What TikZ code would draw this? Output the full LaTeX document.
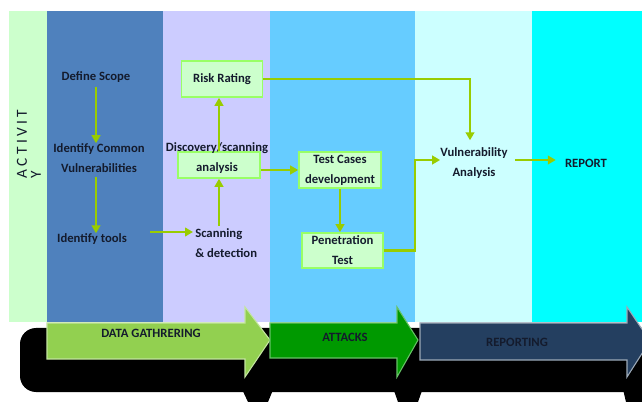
\documentclass[tikz,border=0pt]{standalone}
\usepackage{fontspec}
\setmainfont{Carlito}
\usetikzlibrary{arrows.meta,calc}
\definecolor{actlane}{HTML}{CCFFCC}
\definecolor{scopelane}{HTML}{4F81BD}
\definecolor{scanlane}{HTML}{CCCCFF}
\definecolor{attacklane}{HTML}{66CCFF}
\definecolor{analysislane}{HTML}{CCFFFF}
\definecolor{reportlane}{HTML}{00FFFF}
\definecolor{boxfill}{HTML}{CCFFCC}
\definecolor{boxline}{HTML}{99FF66}
\definecolor{flowline}{HTML}{99CC00}
\definecolor{gatherfill}{HTML}{92D050}
\definecolor{attackfill}{HTML}{009900}
\definecolor{reportfill}{HTML}{243F60}
\definecolor{ink}{HTML}{141B2D}
\begin{document}
\begin{tikzpicture}[x=0.75pt,y=-0.75pt]
    \tikzstyle{every node}+=[inner sep=0pt, text=ink, font=\bfseries\fontsize{9.5}{15}\selectfont]
    \tikzstyle{stepbox}=[draw=boxline, fill=boxfill, line width=1.2pt, align=center]
    \tikzstyle{flow}=[draw=flowline, line width=1.8pt, -{Triangle[length=6pt,width=6.5pt]}]
    \useasboundingbox (0,0) rectangle (642,402);
    \fill [white] (0,0) rectangle (642,402);
    % lanes
    \fill [actlane] (9,11) rectangle (47,322);
    \fill [scopelane] (47,11) rectangle (163,322);
    \fill [scanlane] (163,11) rectangle (270,322);
    \fill [attacklane] (270,11) rectangle (415,322);
    \fill [analysislane] (415,11) rectangle (532,322);
    \fill [reportlane] (532,11) rectangle (642,322);
    \node [rotate=90, align=left, font=\fontsize{11.5}{10.5}\selectfont\addfontfeatures{LetterSpace=22}] (activity) at (29,144) {ACTIVIT\\Y};
    % steps
    \node (scope) at (96,77) {Define Scope};
    \node [align=center] (common) at (99,158) {Identify Common\\Vulnerabilities};
    \node (tools) at (92,239) {Identify tools};
    \node [align=left, anchor=west] (scan) at (195,243) {Scanning\\\& detection};
    \node [stepbox, minimum width=61.5pt, minimum height=19.5pt] (disc) at (219,165) {};
    \node [align=center] (disctext) at (217,158) {Discovery/scanning\\analysis};
    \node [stepbox, minimum width=60.75pt, minimum height=27pt] (risk) at (222,79) {Risk Rating};
    \node [stepbox, minimum width=61.5pt, minimum height=27pt] (test) at (340,170) {Test Cases\\development};
    \node [stepbox, minimum width=60.75pt, minimum height=26.25pt] (pen) at (342.5,250.5) {Penetration\\Test};
    \node [align=center] (vuln) at (474,163) {Vulnerability\\Analysis};
    \node (report) at (586,163) {REPORT};
    % flows
    \draw [flow, shorten <=3pt] (scope.south) -- (scope.south |- common.north);
    \draw [flow, shorten <=3pt] (scope.south |- common.south) -- (scope.south |- tools.north);
    \draw [flow] ($(tools.east)+(23,-7)$) -- ($(scan.west)+(-2,-11)$);
    \draw [flow, shorten <=2pt] (disc.south |- scan.north) -- (disc.south);
    \draw [flow] (disc.north) -- (disc.north |- risk.south);
    \draw [flow] (risk.east) -| ($(vuln.north)+(-4,-7)$);
    \draw [flow] (disc.east |- test.west) -- (test.west);
    \draw [flow] (test.south) -- (test.south |- pen.north);
    \draw [flow] (pen.east) -- ++(31,0) |- ($(vuln.west)+(0,-3)$);
    \draw [flow] ($(vuln.east)+(7,-3)$) -- ($(report.west)+(-9,-3)$);
    % phase arrows
    \fill [black, rounded corners=12] (20,328) rectangle (660,392);
    \fill [black] (240,385) -- (275,385) -- (268,402) -- (248,402) -- cycle;
    \fill [black] (392,385) -- (424,385) -- (418,402) -- (398,402) -- cycle;
    \fill [black] (622,385) -- (650,385) -- (644,402) -- (626,402) -- cycle;
    \filldraw [fill=gatherfill, draw=gatherfill!55!white, line width=0.8pt] (47,323) -- (245,323) -- (245,307) -- (270,340) -- (245,377) -- (245,359) -- (47,359) -- cycle;
    \filldraw [fill=attackfill, draw=attackfill!60!white, line width=0.8pt] (270,323) -- (397,323) -- (397,307) -- (418,340) -- (397,377) -- (397,358) -- (270,358) -- cycle;
    \filldraw [fill=reportfill, draw=reportfill!45!white, line width=0.8pt] (420,323) -- (627,323) -- (627,307) -- (650,341) -- (627,377) -- (627,360) -- (420,360) -- cycle;
    \node (gather) at (151,333) {DATA GATHRERING};
    \node (attacks) at (345,337) {ATTACKS};
    \node (reporting) at (517,342) {REPORTING};
\end{tikzpicture}
\end{document}
